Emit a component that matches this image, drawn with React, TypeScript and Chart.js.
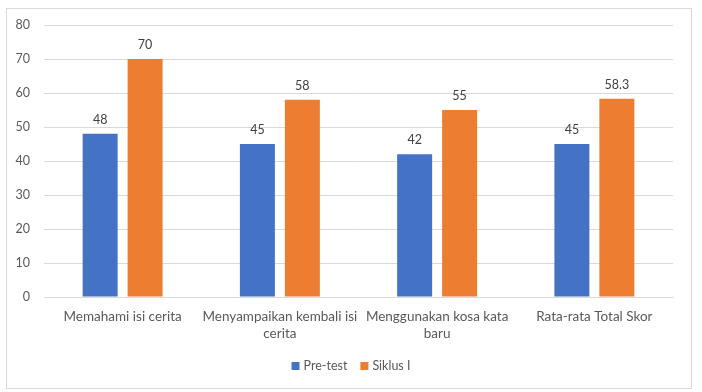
import React, { useEffect, useRef } from "react";
import { Chart, registerables } from "chart.js";

Chart.register(...registerables);

const categories: string[][] = [
  ["Memahami isi cerita"],
  ["Menyampaikan kembali isi", "cerita"],
  ["Menggunakan kosa kata", "baru"],
  ["Rata-rata Total Skor"],
];
const preTest = [48, 45, 42, 45];
const siklus1 = [70, 58, 55, 58.3];
const seriesNames = ["Pre-test", "Siklus I"];
const seriesColors = ["#4472C4", "#ED7D31"];
const yTicks = { min: 0, max: 80, step: 10 };

const FONT = "Lato";
const TEXT = "#595959";

const borderPlugin = {
  id: "outerBorder",
  afterDraw(chart: any) {
    const ctx = chart.ctx;
    ctx.save();
    ctx.strokeStyle = "#d9d9d9";
    ctx.lineWidth = 1;
    ctx.strokeRect(6.5, 8.5, 685, 380);
    ctx.restore();
  },
};

const valueLabels = {
  id: "valueLabels",
  afterDatasetsDraw(chart: any) {
    const ctx = chart.ctx;
    ctx.save();
    ctx.font = `12.5px ${FONT}`;
    ctx.fillStyle = "#404040";
    ctx.textAlign = "center";
    ctx.textBaseline = "middle";
    chart.data.datasets.forEach((ds: any, i: number) => {
      const meta = chart.getDatasetMeta(i);
      meta.data.forEach((bar: any, j: number) => {
        ctx.fillText(String(ds.data[j]), bar.x, bar.y - 14);
      });
    });
    ctx.restore();
  },
};

const customLegend = {
  id: "customLegend",
  afterDraw(chart: any) {
    const ctx = chart.ctx;
    ctx.save();
    ctx.font = `12.5px ${FONT}`;
    ctx.textBaseline = "middle";
    ctx.textAlign = "left";
    const box = 8;
    const gapText = 4;
    const gapItem = 13;
    const names = chart.data.datasets.map((d: any) => d.label);
    const widths = names.map((n: string) => box + gapText + ctx.measureText(n).width);
    const total = widths.reduce((a: number, b: number) => a + b, 0) + gapItem * (names.length - 1);
    let x = 351 - total / 2;
    const cy = 366;
    names.forEach((n: string, i: number) => {
      ctx.fillStyle = chart.data.datasets[i].backgroundColor;
      ctx.fillRect(x, cy - box / 2, box, box);
      ctx.fillStyle = TEXT;
      ctx.fillText(n, x + box + gapText, cy);
      x += widths[i] + gapItem;
    });
    ctx.restore();
  },
};

export default function App() {
  const ref = useRef<HTMLCanvasElement>(null);
  useEffect(() => {
    if (!ref.current) return;
    const chart = new Chart(ref.current, {
      type: "bar",
      data: {
        labels: categories,
        datasets: [
          { label: seriesNames[0], data: preTest, backgroundColor: seriesColors[0] },
          { label: seriesNames[1], data: siklus1, backgroundColor: seriesColors[1] },
        ],
      },
      options: {
        animation: false,
        responsive: false,
        maintainAspectRatio: false,
        layout: { padding: { left: 0, right: 29, top: 25, bottom: 43 } },
        datasets: { bar: { categoryPercentage: 0.572, barPercentage: 0.778 } } as any,
        scales: {
          x: {
            grid: { display: false, drawTicks: false },
            border: { display: true, color: "#d9d9d9" },
            ticks: {
              color: TEXT,
              font: { family: FONT, size: 13.5, lineHeight: 1.2 },
              padding: 12,
              maxRotation: 0,
              autoSkip: false,
            },
            afterFit(scale: any) {
              scale.height = 52;
            },
          },
          y: {
            min: yTicks.min,
            max: yTicks.max,
            grid: { color: "#d9d9d9", drawTicks: false },
            border: { display: false },
            ticks: {
              stepSize: yTicks.step,
              color: TEXT,
              font: { family: FONT, size: 12.5 },
              padding: 14,
            },
            afterFit(scale: any) {
              scale.width = 44;
            },
          },
        },
        plugins: {
          legend: { display: false },
          tooltip: { enabled: false },
        },
      },
      plugins: [borderPlugin, valueLabels, customLegend],
    });
    return () => chart.destroy();
  }, []);
  return (
    <div style={{ position: "absolute", left: 0, top: 0, width: 702, height: 392, background: "#fff" }}>
      <canvas ref={ref} width={702} height={392} style={{ width: 702, height: 392 }} />
    </div>
  );
}
